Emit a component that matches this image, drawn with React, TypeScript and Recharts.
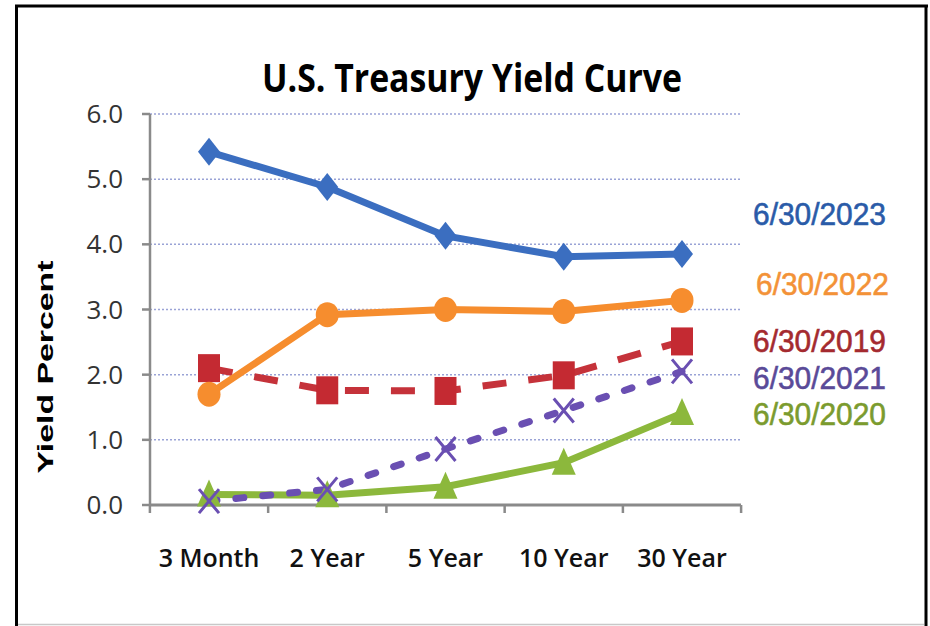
import React from 'react';
import { LineChart, Line, XAxis, YAxis, CartesianGrid } from 'recharts';

const maturities = ['3 Month', '2 Year', '5 Year', '10 Year', '30 Year'];
const yield2019 = [2.1, 1.76, 1.75, 1.99, 2.51];
const yield2020 = [0.16, 0.15, 0.28, 0.65, 1.41];
const yield2021 = [0.06, 0.24, 0.86, 1.45, 2.05];
const yield2022 = [1.7, 2.92, 3.0, 2.97, 3.14];
const yield2023 = [5.42, 4.88, 4.13, 3.81, 3.85];
const yTicks = [0, 1, 2, 3, 4, 5, 6];
const seriesLabels = ['6/30/2023', '6/30/2022', '6/30/2019', '6/30/2021', '6/30/2020'];

const data = maturities.map((m, i) => ({
  m,
  y2019: yield2019[i],
  y2020: yield2020[i],
  y2021: yield2021[i],
  y2022: yield2022[i],
  y2023: yield2023[i],
}));

const C_BLUE = '#3B6EC0';
const C_ORANGE = '#F68D2E';
const C_RED = '#C5323A';
const C_PURPLE = '#6A4FB2';
const C_GREEN = '#8CB83C';
const AXIS = '#8A8A8A';

const Diamond = (p: any) => {
  const { cx, cy, index } = p;
  if (cx == null || cy == null) return <g key={`dm${index}`} />;
  return <path key={`dm${index}`} d={`M${cx},${cy - 14}L${cx + 11},${cy}L${cx},${cy + 14}L${cx - 11},${cy}Z`} fill={C_BLUE} />;
};
const Circ = (p: any) => {
  const { cx, cy, index } = p;
  if (cx == null || cy == null) return <g key={`ci${index}`} />;
  return <ellipse key={`ci${index}`} cx={cx} cy={cy} rx={11.5} ry={12.5} fill={C_ORANGE} />;
};
const Sq = (p: any) => {
  const { cx, cy, index } = p;
  if (cx == null || cy == null) return <g key={`sq${index}`} />;
  return <rect key={`sq${index}`} x={cx - 11} y={cy - 14} width={22} height={28} fill="#C42A32" />;
};
const Cross = (p: any) => {
  const { cx, cy, index } = p;
  if (cx == null || cy == null) return <g key={`cr${index}`} />;
  return (
    <path key={`cr${index}`} d={`M${cx - 10},${cy - 12}L${cx + 10},${cy + 12}M${cx + 10},${cy - 12}L${cx - 10},${cy + 12}`} stroke={C_PURPLE} strokeWidth={3} fill="none" />
  );
};
const Tri = (p: any) => {
  const { cx, cy, index } = p;
  if (cx == null || cy == null) return <g key={`tr${index}`} />;
  return <path key={`tr${index}`} d={`M${cx},${cy - 15}L${cx + 12},${cy + 12}L${cx - 12},${cy + 12}Z`} fill={C_GREEN} />;
};

// Category label at the band centre, with tick marks at the category boundaries
const XTick = (p: any) => {
  const { x, y, payload, width, index } = p;
  const n = maturities.length;
  const half = Number(width) / n / 2;
  const last = index === n - 1;
  return (
    <g>
      <line x1={x - half} y1={y} x2={x - half} y2={y + 8} stroke={AXIS} strokeWidth={2.5} />
      {last && <line x1={x + half} y1={y} x2={x + half} y2={y + 8} stroke={AXIS} strokeWidth={2.5} />}
      <text x={x} y={y + 62} textAnchor="middle" fontFamily="'Open Sans', sans-serif" fontWeight={600} fontSize={25} fill="#111">
        {payload.value}
      </text>
    </g>
  );
};
const YTick = (p: any) => {
  const { x, y, payload } = p;
  return (
    <text x={x} y={y + 9} textAnchor="end" fontFamily="'Open Sans', sans-serif" fontSize={26} fill="#333">
      {Number(payload.value).toFixed(1)}
    </text>
  );
};

const labelColors = ['#2A5BA8', '#F39237', '#A42A2F', '#5A4A98', '#7B9B2E'];
const labelY = [225, 295, 352, 389, 425];

export default function App() {
  return (
    <div style={{ position: 'fixed', left: 0, top: 0, width: 930, height: 626, background: '#fff' }}>
      <LineChart width={930} height={626} data={data} margin={{ top: 114, right: 189, bottom: 0, left: 0 }}>
        <CartesianGrid horizontal vertical={false} stroke="#9AA3D6" strokeDasharray="2 2" strokeWidth={1.5} />
        <XAxis
          dataKey="m"
          padding={{ left: 59, right: 59 }}
          tickLine={false}
          tickSize={0}
          tickMargin={0}
          axisLine={{ stroke: AXIS, strokeWidth: 3 }}
          tick={<XTick />}
          height={121}
          interval={0}
        />
        <YAxis
          domain={[0, 6]}
          ticks={yTicks}
          width={150}
          tickSize={8}
          tickMargin={19}
          axisLine={{ stroke: AXIS, strokeWidth: 2.5 }}
          tickLine={{ stroke: AXIS, strokeWidth: 2.5 }}
          tick={<YTick />}
          interval={0}
        />
        <Line dataKey="y2019" stroke={C_RED} strokeWidth={7} strokeDasharray="24 22" dot={Sq} isAnimationActive={false} />
        <Line dataKey="y2020" stroke={C_GREEN} strokeWidth={7} dot={Tri} isAnimationActive={false} />
        <Line dataKey="y2021" stroke={C_PURPLE} strokeWidth={7} strokeLinecap="round" strokeDasharray="8 19" dot={Cross} isAnimationActive={false} />
        <Line dataKey="y2022" stroke={C_ORANGE} strokeWidth={7} dot={Circ} isAnimationActive={false} />
        <Line dataKey="y2023" stroke={C_BLUE} strokeWidth={7} dot={Diamond} isAnimationActive={false} />
      </LineChart>
      <svg width={930} height={626} style={{ position: 'absolute', left: 0, top: 0, pointerEvents: 'none' }}>
        <line x1={16.5} y1={5} x2={16.5} y2={626} stroke="#000" strokeWidth={3} />
        <line x1={15} y1={6} x2={928} y2={6} stroke="#000" strokeWidth={3} />
        <line x1={926} y1={5} x2={926} y2={626} stroke="#000" strokeWidth={3} />
        <line x1={18} y1={624.5} x2={924} y2={624.5} stroke="#C8C8C8" strokeWidth={1.5} />
        <text x={472} y={92} textAnchor="middle" fontFamily="'Open Sans', sans-serif" fontWeight="bold" fontSize={40} fill="#000" textLength={420} lengthAdjust="spacingAndGlyphs">
          U.S. Treasury Yield Curve
        </text>
        <text
          x={0}
          y={0}
          transform="translate(53,367) rotate(-90)"
          textAnchor="middle"
          fontFamily="'Liberation Sans', Arial, sans-serif"
          fontWeight="bold"
          fontSize={22}
          fill="#000"
          textLength={213}
          lengthAdjust="spacingAndGlyphs"
        >
          Yield Percent
        </text>
        {seriesLabels.map((s, i) => (
          <text
            key={s}
            x={i === 1 ? 756 : 753}
            y={labelY[i]}
            fontFamily="'Liberation Sans Narrow', 'Liberation Sans', Arial, sans-serif"
            fontSize={32}
            fill={labelColors[i]}
            stroke={labelColors[i]}
            strokeWidth={0.6}
            textLength={133}
            lengthAdjust="spacingAndGlyphs"
          >
            {s}
          </text>
        ))}
      </svg>
    </div>
  );
}
